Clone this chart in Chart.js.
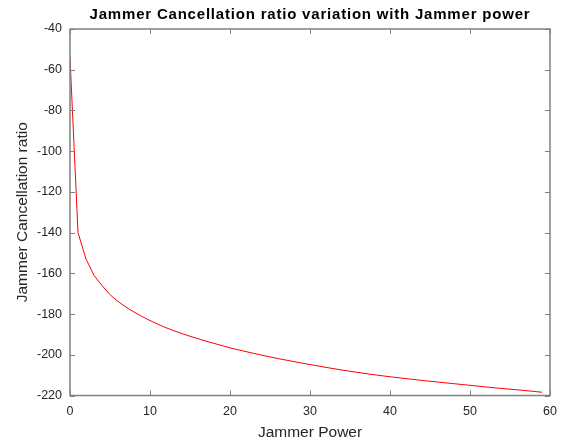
<!DOCTYPE html>
<html>
<head>
<meta charset="utf-8">
<script src="https://cdn.jsdelivr.net/npm/chart.js@4.4.1/dist/chart.umd.min.js"></script>
<style>
  html, body { margin: 0; padding: 0; background: #fff; }
  #wrap { width: 563px; height: 446px; }
</style>
</head>
<body>
<div id="wrap"><canvas id="jcrChart" width="563" height="446"></canvas></div>
<script>
  // values
  const chartTitle = 'Jammer Cancellation ratio variation with Jammer power';
  const jammerPower = [0, 1, 2, 3, 4, 5, 6, 7, 8, 9, 10, 11, 12, 13, 14, 15, 16, 17, 18, 19,
    20, 21, 22, 23, 24, 25, 26, 27, 28, 29, 30, 31, 32, 33, 34, 35, 36, 37, 38, 39,
    40, 41, 42, 43, 44, 45, 46, 47, 48, 49, 50, 51, 52, 53, 54, 55, 56, 57, 58, 59];
  const cancelRatio = [-54, -140, -153, -161, -166, -170.5, -173.8, -176.6, -179, -181.2,
    -183.2, -185, -186.7, -188.2, -189.6, -190.9, -192.1, -193.3, -194.4, -195.5,
    -196.6, -197.55, -198.45, -199.35, -200.2, -201.05, -201.85, -202.6, -203.35, -204.1,
    -204.8, -205.5, -206.2, -206.85, -207.5, -208.1, -208.7, -209.25, -209.8, -210.3,
    -210.8, -211.25, -211.7, -212.15, -212.6, -213, -213.4, -213.8, -214.2, -214.6,
    -215, -215.4, -215.8, -216.2, -216.55, -216.9, -217.25, -217.6, -218, -218.4];
  const xTicks = [0, 10, 20, 30, 40, 50, 60];
  const yTicks = [-220, -200, -180, -160, -140, -120, -100, -80, -60, -40];

  const axisGray = '#808080';
  const textGray = '#262626';

  // matlab style box with inward ticks on every side, title centred on the axes
  const boxPlugin = {
    id: 'boxPlugin',
    afterDatasetsDraw(chart) {
      const c = chart.ctx, a = chart.chartArea;
      const xs = chart.scales.x, ys = chart.scales.y;
      c.save();
      c.strokeStyle = axisGray;
      c.lineWidth = 1.5;
      c.strokeRect(a.left, a.top, a.right - a.left, a.bottom - a.top);
      c.lineWidth = 1;
      c.beginPath();
      xTicks.forEach(v => {
        const px = Math.round(xs.getPixelForValue(v)) + 0.5;
        c.moveTo(px, a.bottom); c.lineTo(px, a.bottom - 5);
        c.moveTo(px, a.top); c.lineTo(px, a.top + 5);
      });
      yTicks.forEach(v => {
        const py = Math.round(ys.getPixelForValue(v)) + 0.5;
        c.moveTo(a.left, py); c.lineTo(a.left + 5, py);
        c.moveTo(a.right, py); c.lineTo(a.right - 5, py);
      });
      c.stroke();
      c.fillStyle = '#000';
      c.font = 'bold 15px "Liberation Sans"';
      c.letterSpacing = '0.8px';
      c.textAlign = 'center';
      c.textBaseline = 'middle';
      c.fillText(chartTitle, (a.left + a.right) / 2, 15);
      c.restore();
    }
  };

  const ctx = document.getElementById('jcrChart');
  const jcrChart = new Chart(ctx, {
    type: 'line',
    data: {
      datasets: [{
        label: 'JCR',
        data: jammerPower.map((x, i) => ({ x: x, y: cancelRatio[i] })),
        borderColor: '#ff0000',
        borderWidth: 1,
        pointRadius: 0,
        tension: 0,
        fill: false
      }]
    },
    options: {
      responsive: false,
      animation: false,
      layout: { padding: { left: 0, right: 13, top: 29, bottom: 0 } },
      plugins: {
        legend: { display: false },
        tooltip: { enabled: false },
        title: { display: false }
      },
      scales: {
        x: {
          type: 'linear',
          min: 0, max: 60,
          afterBuildTicks: s => { s.ticks = xTicks.map(v => ({ value: v })); },
          afterFit: s => { s.height = 50.5; s.paddingLeft = 0; s.paddingRight = 0; },
          grid: { display: false, drawTicks: false },
          border: { display: false },
          ticks: { color: textGray, padding: 9, font: { family: 'Liberation Sans', size: 12.5 } },
          title: {
            display: true, text: 'Jammer Power', color: textGray,
            font: { family: 'Liberation Sans', size: 15.5 }, padding: { top: 4 }
          }
        },
        y: {
          type: 'linear',
          min: -220, max: -40,
          afterBuildTicks: s => { s.ticks = yTicks.map(v => ({ value: v })); },
          afterFit: s => { s.width = 70; s.paddingTop = 0; s.paddingBottom = 0; },
          grid: { display: false, drawTicks: false },
          border: { display: false },
          ticks: { color: textGray, padding: 8, font: { family: 'Liberation Sans', size: 12.5 } },
          title: {
            display: true, text: 'Jammer Cancellation ratio', color: textGray,
            font: { family: 'Liberation Sans', size: 15.5 }, padding: { top: 13, bottom: 2 }
          }
        }
      }
    },
    plugins: [boxPlugin]
  });
</script>
</body>
</html>
